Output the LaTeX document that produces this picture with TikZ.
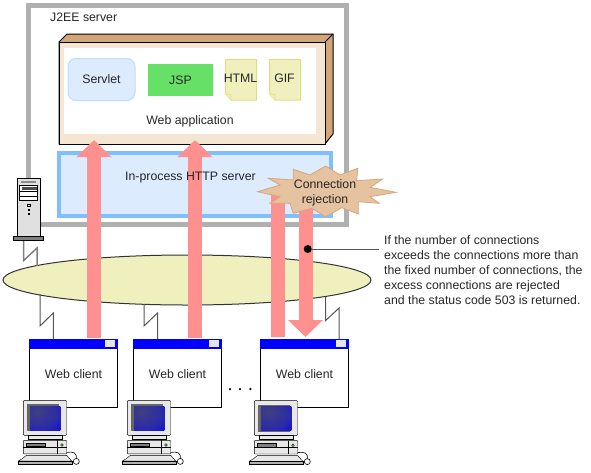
\documentclass[tikz,border=0pt]{standalone}
\usepackage{fontspec}
\setmainfont{Liberation Sans}
\usetikzlibrary{arrows.meta,calc,shapes.geometric}
\definecolor{framegray}{RGB}{176,176,176}
\definecolor{woodlight}{RGB}{245,230,212}
\definecolor{wooddark}{RGB}{210,166,121}
\definecolor{paleblue}{RGB}{220,235,253}
\definecolor{edgeblue}{RGB}{128,191,255}
\definecolor{softblue}{RGB}{190,222,250}
\definecolor{jspgreen}{RGB}{102,224,102}
\definecolor{paleyellow}{RGB}{240,240,190}
\definecolor{edgeyellow}{RGB}{224,224,130}
\definecolor{arrowpink}{RGB}{255,144,144}
\definecolor{burstfill}{RGB}{230,195,160}
\definecolor{burstedge}{RGB}{217,166,121}
\definecolor{titleblue}{RGB}{0,0,255}
\definecolor{wiregray}{RGB}{85,85,85}
\pgfdeclareradialshading{screenglow}{\pgfpoint{-14bp}{14bp}}{%
  color(0bp)=(rgb:red,120;green,120;blue,240);
  color(30bp)=(rgb:red,50;green,50;blue,190);
  color(55bp)=(rgb:red,0;green,0;blue,140);
  color(100bp)=(rgb:red,0;green,0;blue,128)}
\tikzset{
  pcicon/.pic={
    \draw[fill=black!9,rounded corners=1pt] (0,0) rectangle (43.4,35);
    \fill[black!60] (4,4) rectangle (36,31);
    \shade[shading=screenglow] (6.7,5.7) rectangle (37,29.7);
    \draw[fill=black!9] (5,35) rectangle (38.4,38.5);
    \draw[fill=black!9,rounded corners=.6pt] (0,40) rectangle (43.4,53.4);
    \draw (0,46.5) -- (43.4,46.5);
    \draw (34,40) -- (34,53.4);
    \draw[fill=black!50] (3,43) rectangle (22.3,46.2);
    \draw[fill=green!70!white,line width=.4pt] (38.7,44.6) circle (1.4);
    \draw[fill=black!9] (-1,58.3) -- (3,55) -- (43.4,55) -- (48.4,60.6) -- (-5,60.6) -- cycle;
    \draw[fill=black!30] (-5,60.6) rectangle (48.4,63.4);
    \draw[line width=.6pt] (43.4,52) .. controls (50,51) and (54,52) .. (53,59);
    \draw[fill=white,line width=.6pt] (53,61) circle (3);
  }
}
\begin{document}
\begin{tikzpicture}[
  x=1pt,y=-1pt,
  every node/.style={font=\fontsize{12.3}{15}\selectfont,text=black!85},
  lbl/.style={inner sep=0pt,align=center},
  note/.style={draw=edgeyellow,fill=paleyellow,line width=1pt},
  bigarrow/.style={-{Triangle[length=17pt,width=34pt]},arrowpink,line width=14pt},
  lanwire/.style={draw=wiregray,line width=1pt},
  webwin/.style={draw=black,fill=white,line width=1pt,minimum width=88pt,minimum height=68.5pt,inner sep=0pt}]

\useasboundingbox (0,0) rectangle (591,472);

% --- server frame
\draw[framegray,line width=5pt] (28.5,5.5) rectangle (346.5,224.5);
\node[lbl,anchor=west] (j2ee) at (50,17) {J2EE server};

% --- web application box
\draw[line width=1pt,fill=wooddark] (59,42) -- (67,34) -- (333,34) -- (333,134) -- (325,144) -- (59,144) -- cycle;
\draw[line width=1pt] (325,42) -- (333,34);
\draw[line width=1pt,fill=woodlight] (59,42) rectangle (325,144);
\fill[white] (64,48) rectangle (316,134);
\node[lbl] (webapp) at (190,121) {Web application};

\node[lbl,draw=softblue,fill=paleblue,line width=1pt,rounded corners=8pt,minimum width=67pt,minimum height=42pt] (servlet) at (101.5,79.5) {Servlet};
\node[lbl,fill=jspgreen,minimum width=65pt,minimum height=32pt] (jsp) at (180.5,80) {JSP};

\draw[note] (225.5,59.5) -- (256.5,59.5) -- (256.5,100) -- (231,100) -- (225.5,94) -- cycle;
\draw[note,line width=.7pt] (225.5,94) -- (231,94.5) -- (231,100);
\node[lbl] (html) at (240.5,78.5) {HTML};
\draw[note] (269.5,59.5) -- (300.5,59.5) -- (300.5,100) -- (275,100) -- (269.5,94) -- cycle;
\draw[note,line width=.7pt] (269.5,94) -- (275,94.5) -- (275,100);
\node[lbl] (gif) at (284.5,78.5) {GIF};

% --- in-process server
\draw[edgeblue,fill=paleblue,line width=4pt] (59,153) rectangle (331,216);

% --- network
\node[ellipse,draw=black!80,fill=paleyellow,line width=1pt,minimum width=368pt,minimum height=50pt,inner sep=0pt] (lan) at (187,280) {};

% --- wires
\coordinate (tapS) at (23.7,241);
\coordinate (tapA) at (40,294);
\coordinate (tapB) at (144,304);
\coordinate (tapC) at (325.7,297);
\draw[draw=black!50,line width=1.5pt] (tapS) -- ++(0,19.5) -- ++(13.3,-12.5) -- ++(0,18);

% --- web clients
\node[webwin] (cliA) at (73.5,373.7) {Web client};
\node[webwin] (cliB) at (177.5,373.7) {Web client};
\node[webwin] (cliC) at (304.5,373.7) {Web client};
\foreach \c in {cliA,cliB,cliC}{
  \fill[titleblue] (\c.north west) rectangle ($(\c.north east)+(0,10)$);
  \fill[black!10] ($(\c.north east)+(-13.5,1.2)$) rectangle ($(\c.north east)+(-3,8.5)$);
}
\draw[lanwire] (tapA) -- (40,326) -- (53.3,313) -- (53.3,339);
\draw[lanwire] (tapB) -- (144,326) -- (157.5,313) -- (157.5,339);
\draw[lanwire] (tapC) -- (325.7,320.5) -- (339,308) -- (339,339);

\node[lbl,circle,fill=black,minimum size=2.5pt] (dotA) at (230,389) {};
\node[lbl,circle,fill=black,minimum size=2.5pt] (dotB) at (240,389) {};
\node[lbl,circle,fill=black,minimum size=2.5pt] (dotC) at (250.3,389) {};

% --- arrows
\coordinate (upAa) at (94,338);
\coordinate (upAb) at (94,140);
\coordinate (upBa) at (195,338);
\coordinate (upBb) at (195,140);
\coordinate (upCa) at (278,337);
\coordinate (upCb) at (278,190);
\coordinate (downa) at (305.5,195);
\coordinate (downb) at (305.5,337);
\draw[bigarrow] (upAa) -- (upAb);
\draw[bigarrow] (upBa) -- (upBb);
\draw[arrowpink,line width=14pt] (upCa) -- (upCb);
\draw[bigarrow] (downa) -- (downb);
\node[lbl] (httpd) at (190.5,178) {In-process HTTP server};

% --- rejection burst
\draw[draw=burstedge,fill=burstfill,line width=.8pt]
  (257.7,191.7) -- (280,185) -- (268.3,178.3) -- (293.3,180) -- (293.3,169.3) -- (310,175)
  -- (325.7,166) -- (340,175) -- (357.7,168.3) -- (356.7,180.7) -- (382.7,179) -- (370,187.3)
  -- (396,192.3) -- (370,196.7) -- (379.3,203.3) -- (358.3,201.7) -- (358.3,214) -- (341.7,207.7)
  -- (325.7,216.7) -- (311.7,208.3) -- (293.3,213.3) -- (290,203.3) -- (270,203.3) -- (280,196.7) -- cycle;
\node[lbl] (reject) at (325,192.5) {Connection\\rejection};

% --- callout
\node[circle,fill=black,inner sep=0pt,minimum size=8pt] (pin) at (307.7,249) {};
\coordinate (pinend) at (379.3,249);
\draw[wiregray,line width=1pt] (pin) -- (pinend);
\node[lbl,anchor=west,align=left] (remark) at (384,270) {If the number of connections\\exceeds the connections more than\\the fixed number of connections, the\\excess connections are rejected\\and the status code 503 is returned.};

% --- machines
\draw[line width=1pt,fill=black!12] (17.3,178.3) rectangle (40.7,236.3);
\fill[black!45] (21,181) rectangle (36,182.7);
\draw[line width=.7pt,fill=white] (19.3,185) rectangle (37.7,200.7);
\fill[black!70] (21.5,187.3) rectangle (36.7,190);
\draw[line width=.7pt] (19.3,191.5) -- (37.7,191.5) (19.3,196) -- (37.7,196);
\draw[line width=.6pt,fill=green!25] (27.3,204) rectangle (30.7,206.3);
\fill (28,208.5) rectangle (30,210.5);
\fill (28,212.5) rectangle (30,214.5);
\draw[line width=1pt,fill=black!50] (13.3,236.3) rectangle (43.3,240.7);
\pic (pcA) at (23.3,400.4) {pcicon};
\pic (pcB) at (127.3,400.4) {pcicon};
\pic (pcC) at (254.3,400.6) {pcicon};
\end{tikzpicture}
\end{document}
